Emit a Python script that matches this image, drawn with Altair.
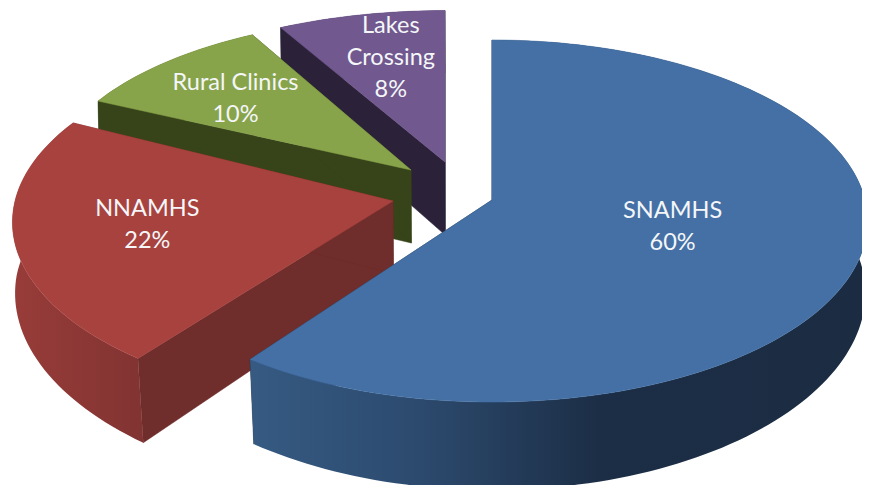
import math
import altair as alt
import pandas as pd

categories = ["SNAMHS", "NNAMHS", "Rural Clinics", "Lakes Crossing"]
label_lines = [["SNAMHS", "60%"], ["NNAMHS", "22%"], ["Rural Clinics", "10%"], ["Lakes", "Crossing", "8%"]]
values = [60, 22, 10, 8]

top_colors = ["#4470A5", "#A8423F", "#88A44B", "#71588F"]
wall_colors = ["#1B2C42", "#6F2D2B", "#374419", "#2B2139"]
# rim shading: colour at rim positions, left to right on the page
rim_stops = [
    [(252, "#365A82"), (420, "#2C4A6E"), (600, "#1C2E46"), (870, "#1B2C42")],
    [(12, "#983C39"), (137, "#823432")],
    [(100, "#374419"), (250, "#374419")],
    [(280, "#2B2139"), (450, "#2B2139")],
]

# projected disc parameters of each exploded slice: apex x, apex y, x radius, y radius, rotation
geometry = [
    (492, 200, 373, 178.6, 0.0),
    (393, 201, 378, 181, 1.8),
    (411, 170, 363, 170, 0.0),
    (445, 162, 376, 169, 0.0),
]
label_radius = [0.50, 0.655, 0.70, 0.62]
label_shift = [-1, -2, 6, -9]
K = 0.116        # perspective of the disc plane
DEPTH = 73       # thickness at the apex
K_DEPTH = 0.17   # growth of the thickness towards the viewer
VANISH_X = 492
OFFSET = 8       # page margin


def top(i, theta, r=1.0):
    x0, y0, a, b, _ = geometry[i]
    t = math.radians(theta)
    u, v = r * math.sin(t), r * math.cos(t)
    w = 1 + K * v
    return x0 + a * u / w, y0 - b * v / w


def bottom(i, theta, r=1.0):
    x, y = top(i, theta, r)
    v = r * math.cos(math.radians(theta))
    shrink = 1 - 0.004 - 0.014 * max(0.0, -v)
    return VANISH_X + (x - VANISH_X) * shrink, y + DEPTH / (1 + K_DEPTH * v)


def poly(points, color):
    ring = [[px - OFFSET, py - OFFSET] for px, py in points]
    ring.append(ring[0])
    return {
        "type": "Feature",
        "properties": {"c": color},
        "geometry": {"type": "Polygon", "coordinates": [ring]},
    }


def shape_layer(feats):
    return (
        alt.Chart(alt.Data(values=feats))
        .mark_geoshape(strokeWidth=0.5)
        .encode(
            fill=alt.Fill("properties.c:N", scale=None, legend=None),
            stroke=alt.Stroke("properties.c:N", scale=None, legend=None),
        )
        .project(type="identity", scale=1, translate=[0, 0])
    )


def rim_layer(i, points):
    xs = [p[0] for p in points]
    lo, hi = min(xs), max(xs)
    stops = [
        {"offset": min(1, max(0, (x - lo) / (hi - lo))), "color": c}
        for x, c in rim_stops[i]
    ]
    gradient = {"gradient": "linear", "x1": 0, "y1": 0, "x2": 1, "y2": 0, "stops": stops}
    return (
        alt.Chart(alt.Data(values=[poly(points, "none")]))
        .mark_geoshape(fill=gradient, stroke=None, strokeWidth=0)
        .project(type="identity", scale=1, translate=[0, 0])
    )


layers = []
rows = []
total = sum(values)
starts = []
acc = 0
for val in values:
    starts.append(acc)
    acc += val

# slices painted from the back of the picture to the front
for i in [3, 2, 1, 0]:
    rot = geometry[i][4]
    t0 = starts[i] / total * 360 + rot
    t1 = (starts[i] + values[i]) / total * 360 + rot
    n = max(4, int((t1 - t0) / 1.5))
    thetas = [t0 + (t1 - t0) * j / n for j in range(n + 1)]
    walls = [
        poly([top(i, t, 0), top(i, t), bottom(i, t), bottom(i, t, 0)], wall_colors[i])
        for t in (t0, t1)
    ]
    layers.append(shape_layer(walls))
    rim = [top(i, t) for t in thetas] + [bottom(i, t) for t in reversed(thetas)]
    layers.append(rim_layer(i, rim))
    face = poly([top(i, t0, 0)] + [top(i, t) for t in thetas], top_colors[i])
    layers.append(shape_layer([face]))
    mid = (t0 + t1) / 2
    lx, ly = top(i, mid, label_radius[i])
    lines = label_lines[i]
    for j, line in enumerate(lines):
        rows.append({
            "text": line,
            "x": lx - OFFSET,
            "y": ly + label_shift[i] + (j - (len(lines) - 1) / 2) * 32 - OFFSET,
        })

labels = (
    alt.Chart(pd.DataFrame(rows))
    .mark_text(font="Lato", fontSize=23.5, color="#F4F6F8", align="center", baseline="middle")
    .encode(
        x=alt.X("x:Q", scale=None, axis=None),
        y=alt.Y("y:Q", scale=None, axis=None),
        text="text:N",
    )
)

chart = (
    alt.layer(*layers, labels)
    .properties(width=854, height=477, padding=0, background="white")
    .configure_view(stroke=None)
)

chart.save("out.html", embed_options={"renderer": "svg", "actions": False})
